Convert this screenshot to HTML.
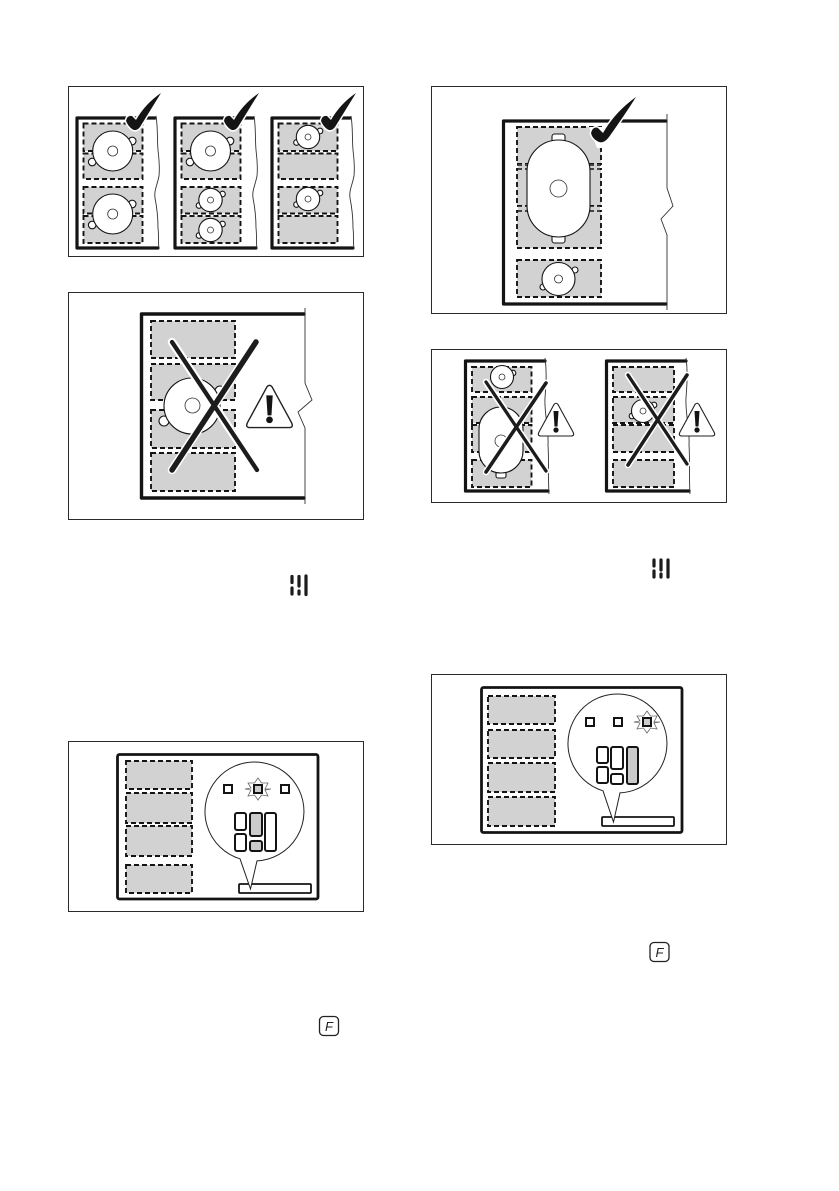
<!DOCTYPE html>
<html>
<head>
<meta charset="utf-8">
<style>
html,body{margin:0;padding:0;background:#fff}
svg{display:block;filter:blur(.35px)}
.panel{fill:#fff;stroke:#2a2a2a;stroke-width:1}
.hob{fill:none;stroke:#141414;stroke-width:3.2;stroke-linejoin:round;stroke-linecap:round}
.thin{fill:none;stroke:#333;stroke-width:.9}
.zone{fill:#d2d2d2;stroke:#141414;stroke-width:1.9;stroke-dasharray:5 3}
.disc{fill:#fff;stroke:#141414;stroke-width:1.1}
.inner{fill:#fff;stroke:#333;stroke-width:.8}
.halo{fill:none;stroke:#fff;stroke-linecap:round}
.x{fill:none;stroke:#1c1c1c;stroke-linecap:round}
.ctl{fill:#fff;stroke:#141414;stroke-width:2}
.ctg{fill:#cbcbcb;stroke:#141414;stroke-width:2}
.star{fill:none;stroke:#666;stroke-width:.8}
.ic{stroke:#1c1c1c;stroke-width:3.2;stroke-linecap:round}
</style>
</head>
<body>
<svg xmlns="http://www.w3.org/2000/svg" width="839" height="1191" viewBox="0 0 839 1191">
<defs>
  <g id="check">
    <path d="M0,3 Q1,-3 6,-2 L10,2 Q19,-14 35,-25 Q27,-12 14,9 Q10,14 6,11 Q2,8 0,3 Z" fill="#141414" stroke="#fff" stroke-width="3" paint-order="stroke"/>
  </g>
  <g id="big">
    <circle class="disc" cx="19.5" cy="-10" r="3.8"/>
    <circle class="disc" cx="-20.5" cy="11" r="3.8"/>
    <circle class="disc" r="20"/>
    <circle class="inner" r="5"/>
  </g>
  <g id="small">
    <circle class="disc" cx="12" cy="-6" r="2.8"/>
    <circle class="disc" cx="-11.500" cy="5.500" r="2.8"/>
    <circle class="disc" r="11.700"/>
    <circle class="inner" r="3"/>
  </g>
  <g id="warn">
    <path d="M-2,1.500 Q0,-1 2,1.500 L17,29 Q19,33 15,33 L-15,33 Q-19,33 -17,29 Z" fill="#fff" stroke="#222" stroke-width="1.100" stroke-linejoin="round"/>
    <path d="M-2.500,8 h5 l-1,15.500 h-3 Z" fill="#141414"/>
    <circle cy="27" r="2.600" fill="#141414"/>
  </g>
  <path id="star" class="star" d="M0,-11 L3.500,-6 L10,-6 L7,0 L13,0 L7,1 L10,7 L3.500,6 L0,11 L-3.500,6 L-10,7 L-7,1 L-13,0 L-7,-1 L-10,-6 L-3.500,-6 Z"/>
  <g id="wave"><path class="thin" d="M0,0 C2,12 1,22 2,34 C3,44 4,50 3,60 C1,70 -2,74 -1,82 C1,92 2,100 2,112 C3,120 2,126 3,133"/></g>
</defs>

<rect x="68.5" y="86.5" width="295" height="170" class="panel"/>
<!-- A -->
<g>
  <rect class="zone" x="83.5" y="123.5" width="59" height="27.5"/>
  <rect class="zone" x="83.5" y="153.5" width="59" height="25.5"/>
  <rect class="zone" x="83.5" y="187" width="59" height="26.5"/>
  <rect class="zone" x="83.5" y="216" width="59" height="27"/>
  <use href="#big" x="112.7" y="151"/>
  <use href="#big" x="112.7" y="214"/>
  <path class="hob" d="M155,118 H77 V248 H158"/>
  <use href="#wave" x="156" y="116"/>
  <use href="#check" x="126" y="118"/>
</g>
<!-- B -->
<g>
  <rect class="zone" x="181.5" y="123.5" width="59" height="27.5"/>
  <rect class="zone" x="181.5" y="153.5" width="59" height="25.5"/>
  <rect class="zone" x="181.5" y="187" width="59" height="26.5"/>
  <rect class="zone" x="181.5" y="216" width="59" height="27"/>
  <use href="#big" x="210.5" y="151"/>
  <use href="#small" x="210.5" y="200"/>
  <use href="#small" x="210.5" y="230"/>
  <path class="hob" d="M253,118 H175 V248 H256"/>
  <use href="#wave" x="254" y="116"/>
  <use href="#check" x="224" y="118"/>
</g>
<!-- C -->
<g>
  <rect class="zone" x="278.5" y="123.5" width="59" height="27.5"/>
  <rect class="zone" x="278.5" y="153.5" width="59" height="25.5"/>
  <rect class="zone" x="278.5" y="187" width="59" height="26.5"/>
  <rect class="zone" x="278.5" y="216" width="59" height="27"/>
  <use href="#small" x="308" y="137"/>
  <use href="#small" x="308" y="199"/>
  <path class="hob" d="M350,118 H272 V248 H353"/>
  <use href="#wave" x="351" y="116"/>
  <use href="#check" x="321" y="118"/>
</g>

<!-- panel 2 -->
<rect x="68.5" y="292.5" width="295" height="227" class="panel"/>
<rect class="zone" x="151" y="321" width="84" height="37"/>
<rect class="zone" x="151" y="364" width="84" height="36"/>
<rect class="zone" x="151" y="410" width="84" height="38"/>
<rect class="zone" x="151" y="453" width="84" height="38"/>
<circle class="disc" cx="220" cy="391" r="5"/>
<circle class="disc" cx="164" cy="421" r="5"/>
<circle class="disc" cx="192" cy="406" r="28"/>
<circle class="inner" cx="192.500" cy="405.500" r="7.500"/>
<path class="hob" style="stroke-width:3.4" d="M304,314 H141.500 V498 H304"/>
<path class="thin" d="M305,308 V383 L312,400 L298,412 L305,428 V504"/>
<path class="halo" stroke-width="8.500" d="M172,342 L257,470 M256,342 L172,470"/>
<path class="x" stroke-width="4.300" d="M172,342 L257,470"/>
<path class="x" stroke-width="5.500" d="M256,342 L172,470"/>
<use href="#warn" transform="translate(269.500 385) scale(1.290 1.290)"/>

<!-- panel 3 -->
<rect x="431.5" y="86.5" width="295" height="227" class="panel"/>
<rect class="zone" x="517" y="127" width="84" height="37"/>
<rect class="zone" x="517" y="169" width="84" height="37"/>
<rect class="zone" x="517" y="211" width="84" height="37"/>
<rect x="518" y="164" width="82" height="6" fill="#d2d2d2"/>
<rect x="518" y="206" width="82" height="6" fill="#d2d2d2"/>
<path d="M517,165 h84 M517,169 h84 M517,206 h84 M517,211 h84" stroke="#141414" stroke-width="1.600" stroke-dasharray="5 3" fill="none"/>
<rect class="zone" x="517" y="260" width="84" height="37"/>
<rect class="disc" x="552" y="134" width="13" height="10" rx="2.500"/>
<rect class="disc" x="552" y="233" width="13" height="10" rx="2.500"/>
<rect class="disc" x="527" y="140" width="63" height="97" rx="31.500" ry="31.500"/>
<circle class="inner" cx="558.500" cy="188.500" r="8.500"/>
<circle class="disc" cx="575" cy="270" r="3"/>
<circle class="disc" cx="543" cy="287" r="3"/>
<circle class="disc" cx="558.500" cy="279" r="16.500"/>
<circle class="inner" cx="558.500" cy="279" r="4"/>
<path class="hob" style="stroke-width:3.2" d="M666,121 H503.500 V304 H666"/>
<path class="thin" d="M667,114 V188 L673,206 L661,219 L667,235 V310"/>
<path d="M589,127 L604,127 V148 L597,148 Z" fill="#fff"/>
<path d="M591,133 Q593,126 598,128 L603,133 Q615,112 636,97 Q626,113 609,137 Q603,145 597,141 Q592,138 591,133 Z" fill="#141414" stroke="#fff" stroke-width="3" paint-order="stroke"/>

<!-- panel 4 -->
<rect x="431.5" y="349.5" width="295" height="153" class="panel"/>
<rect class="zone" x="472" y="367" width="59.500" height="25"/>
<rect class="zone" x="472" y="397" width="59.500" height="26"/>
<rect class="zone" x="472" y="425" width="59.500" height="27"/>
<rect class="zone" x="472" y="460" width="59.500" height="27"/>
<circle class="disc" cx="513" cy="373" r="2.800"/>
<circle class="disc" cx="502" cy="377" r="11.500"/>
<circle class="inner" cx="502" cy="377" r="3"/>
<rect class="disc" x="496" y="470" width="10" height="8" rx="2"/>
<rect class="disc" x="479" y="407" width="44" height="66" rx="22"/>
<circle class="inner" cx="501" cy="441" r="6"/>
<path class="hob" d="M545,361 H465.500 V491 H548"/>
<path class="thin" d="M545,358 C547,372 546,384 545,398 C544,412 549,430 548,445 C549,460 548,480 549,494"/>
<path class="halo" stroke-width="6.500" d="M486,382 L546,471 M546,383 L486,472"/>
<path class="x" stroke-width="3.300" d="M486,382 L546,471"/>
<path class="x" stroke-width="3.600" d="M546,383 L486,472"/>
<use href="#warn" x="556" y="403"/>

<rect class="zone" x="613" y="367" width="61" height="25"/>
<rect class="zone" x="613" y="397" width="61" height="26"/>
<rect class="zone" x="613" y="425" width="61" height="27"/>
<rect class="zone" x="613" y="460" width="61" height="27"/>
<circle class="disc" cx="654" cy="405" r="2.800"/>
<circle class="disc" cx="632" cy="416" r="2.800"/>
<circle class="disc" cx="643" cy="411" r="11.500"/>
<circle class="inner" cx="643" cy="411" r="3"/>
<path class="hob" d="M686,361 H606.500 V491 H689"/>
<path class="thin" d="M686,358 C688,372 687,384 686,398 C685,412 690,430 689,445 C690,460 689,480 690,494"/>
<path class="halo" stroke-width="6.500" d="M628,375 L687,464 M687,375 L628,465"/>
<path class="x" stroke-width="3.300" d="M628,375 L687,464"/>
<path class="x" stroke-width="3.600" d="M687,375 L628,465"/>
<use href="#warn" x="697" y="403"/>

<!-- power icons -->
<path class="ic" d="M292,576.500 V582.500 M292,588 V594 M299,576.500 V586 M299,591 V594 M306,576 V594.500"/>
<path class="ic" d="M654,560 V566 M654,571 V577 M661,560 V570 M661,574 V577 M668,560 V577"/>

<!-- panel 5 -->
<rect x="68.5" y="741.5" width="295" height="170" class="panel"/>
<rect x="117.500" y="754.500" width="200.500" height="144.500" rx="2" fill="none" stroke="#141414" stroke-width="2.800"/>
<rect class="zone" x="126" y="761" width="66" height="28"/>
<rect class="zone" x="126" y="793" width="66" height="30"/>
<rect class="zone" x="126" y="826" width="66" height="30"/>
<rect class="zone" x="126" y="865" width="66" height="28"/>
<rect x="239" y="884" width="72" height="9" rx="1" fill="#fff" stroke="#141414" stroke-width="1.800"/>
<path d="M240,858.800 A49.500,49.500 0 1 1 257,860.900 L250.500,889 Z" fill="#fff" stroke="#222" stroke-width="1"/>
<rect class="ctl" x="224" y="785" width="8" height="8"/>
<rect class="ctg" x="254" y="785" width="8" height="8"/>
<rect class="ctl" x="281" y="785" width="8" height="8"/>
<use href="#star" x="258" y="789"/>
<rect class="ctl" x="235" y="813" width="11" height="17" rx="2"/>
<rect class="ctl" x="235" y="834" width="11" height="17" rx="2"/>
<rect class="ctg" x="250" y="813" width="12" height="23" rx="2"/>
<rect class="ctg" x="250" y="841" width="12" height="10" rx="2"/>
<rect class="ctl" x="265" y="813" width="11" height="38" rx="2"/>

<!-- panel 6 -->
<rect x="431.5" y="674.5" width="295" height="170" class="panel"/>
<rect x="481.500" y="687.500" width="200.500" height="145" rx="2" fill="none" stroke="#141414" stroke-width="2.800"/>
<rect class="zone" x="488" y="696" width="67" height="28"/>
<rect class="zone" x="488" y="730" width="67" height="28"/>
<rect class="zone" x="488" y="763" width="67" height="29"/>
<rect class="zone" x="488" y="797" width="67" height="29"/>
<rect x="602" y="817" width="72" height="9" rx="1" fill="#fff" stroke="#141414" stroke-width="1.800"/>
<path d="M603,790.800 A49.500,49.500 0 1 1 620,792.900 L613.500,822 Z" fill="#fff" stroke="#222" stroke-width="1"/>
<rect class="ctl" x="586" y="718" width="8" height="8"/>
<rect class="ctl" x="614" y="718" width="8" height="8"/>
<rect class="ctg" x="643" y="718" width="8" height="8"/>
<use href="#star" x="647" y="722"/>
<rect class="ctl" x="597" y="747" width="11" height="16" rx="2"/>
<rect class="ctl" x="597" y="767" width="11" height="16" rx="2"/>
<rect class="ctl" x="611" y="747" width="12" height="22" rx="2"/>
<rect class="ctl" x="611" y="774" width="12" height="10" rx="2"/>
<rect class="ctg" x="627" y="747" width="11" height="37" rx="2"/>

<!-- F keys -->
<rect x="319.500" y="1016.500" width="19" height="19" rx="4" fill="#fff" stroke="#222" stroke-width="1.300"/>
<text x="329" y="1031" font-family="'Liberation Sans',sans-serif" font-style="italic" font-size="13" text-anchor="middle" fill="#222">F</text>
<rect x="650" y="942.500" width="19" height="19" rx="4" fill="#fff" stroke="#222" stroke-width="1.300"/>
<text x="659.500" y="957" font-family="'Liberation Sans',sans-serif" font-style="italic" font-size="13" text-anchor="middle" fill="#222">F</text>
</svg>
</body>
</html>
